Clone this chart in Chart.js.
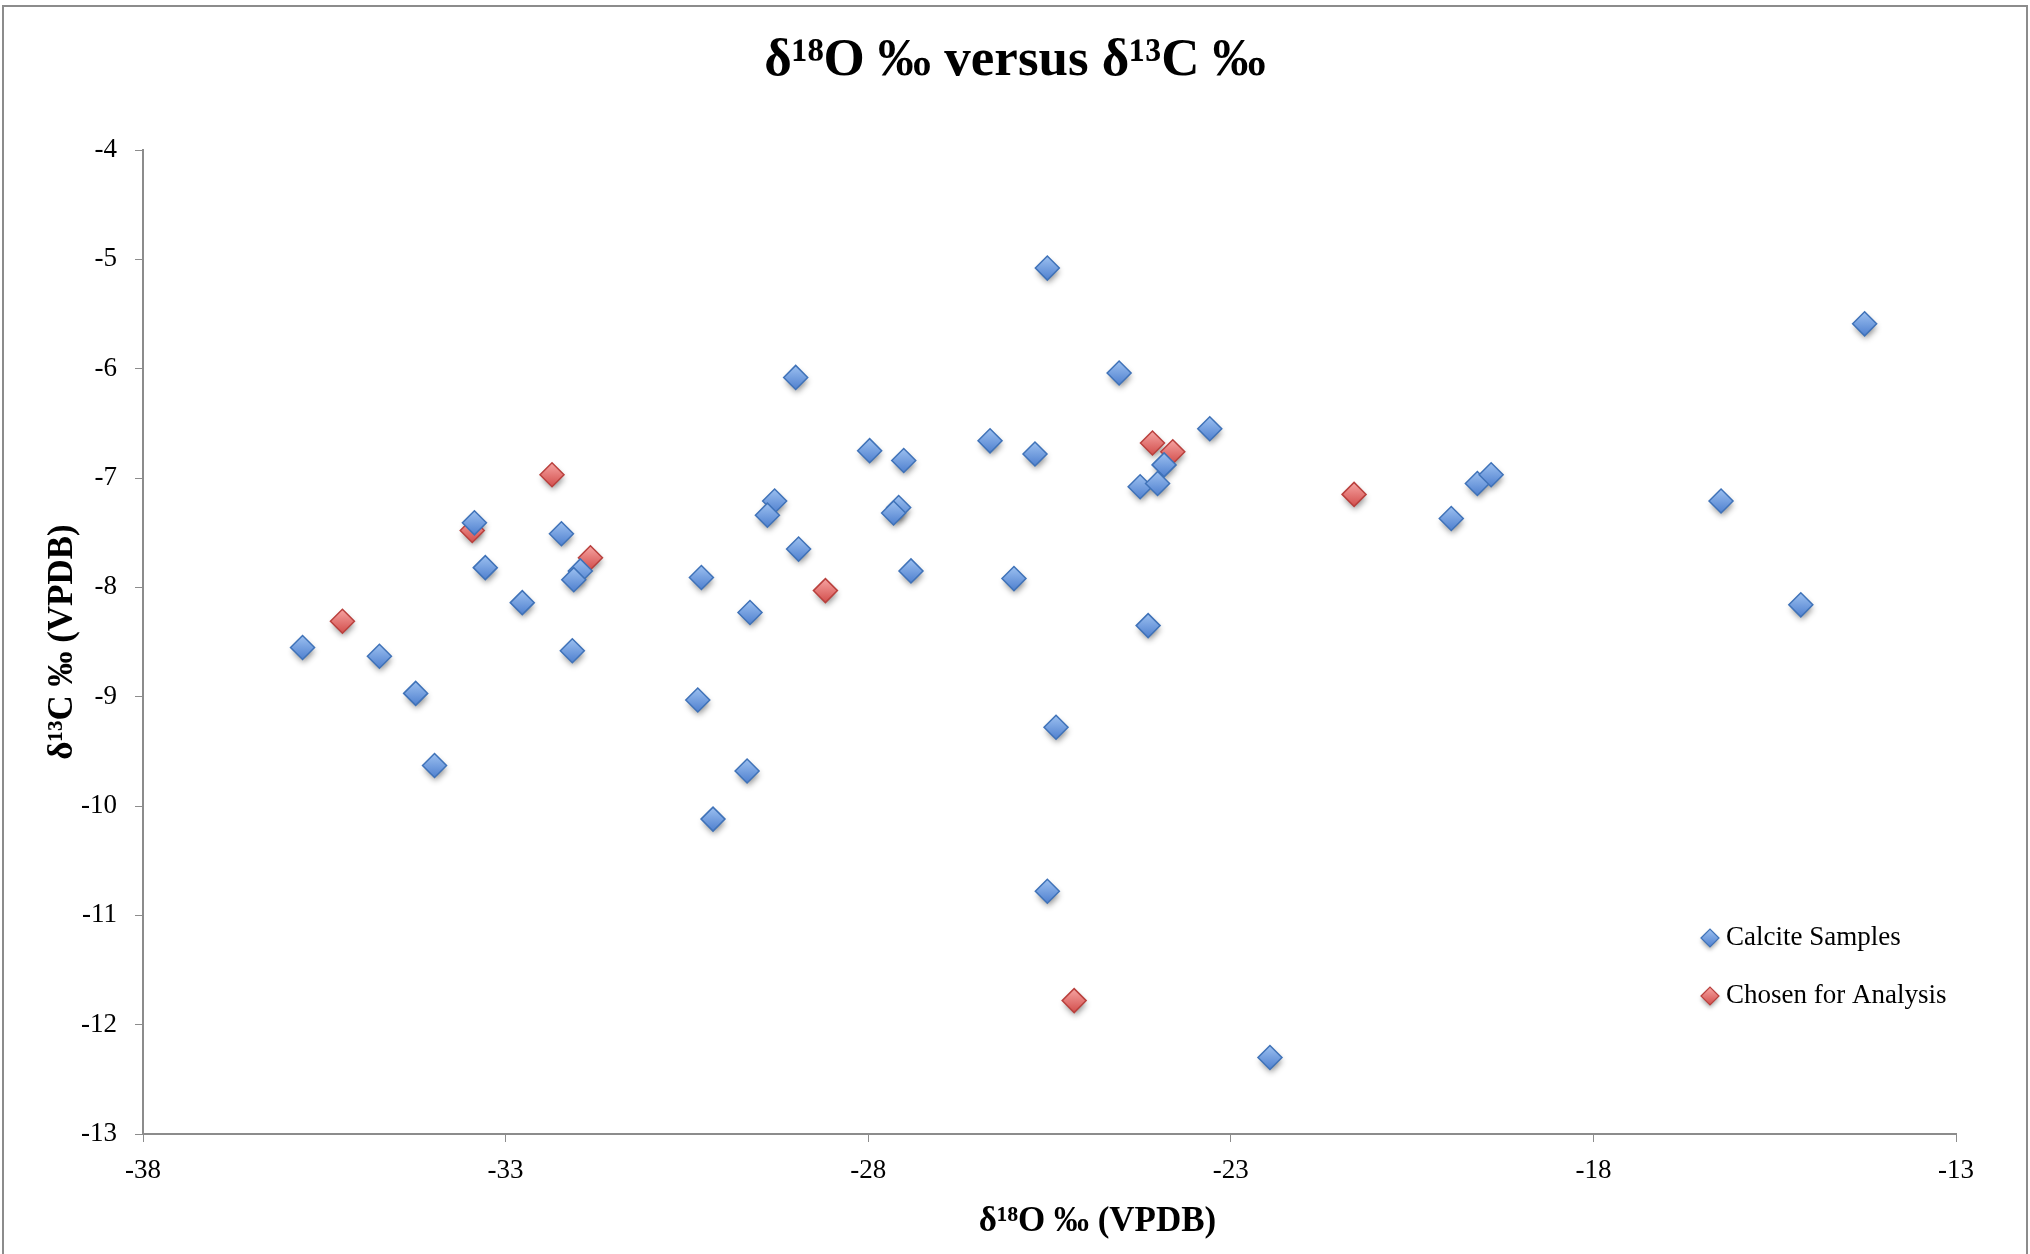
<!DOCTYPE html>
<html><head><meta charset="utf-8">
<script src="https://cdn.jsdelivr.net/npm/chart.js@4.4.1/dist/chart.umd.min.js"></script>
<style>html,body{margin:0;padding:0;background:#fff}#wrap{position:relative;width:2030px;height:1254px}</style>
</head><body><div id="wrap"><canvas id="c"></canvas></div>
<script>
// ---- data ----
const seriesNames = ['Calcite Samples', 'Chosen for Analysis'];
const calciteX = [-35.80,-34.74,-34.24,-33.98,-33.43,-33.28,-32.77,-32.23,-31.97,-32.06,-32.08,-30.30,-30.35,-30.14,-29.67,-29.63,-29.29,-29.39,-29.00,-28.96,-27.98,-27.58,-27.65,-27.51,-27.41,-26.32,-25.99,-25.70,-25.53,-25.41,-25.53,-24.54,-24.25,-24.14,-24.01,-23.92,-23.29,-22.46,-19.96,-19.60,-19.41,-16.24,-15.14,-14.26];
const calciteY = [-8.55,-8.63,-8.97,-9.63,-7.41,-7.82,-8.14,-7.51,-7.85,-7.93,-8.58,-7.91,-9.03,-10.12,-9.68,-8.23,-7.21,-7.34,-6.08,-7.65,-6.75,-7.27,-7.32,-6.84,-7.85,-6.66,-7.92,-6.78,-5.08,-9.28,-10.78,-6.04,-7.08,-8.35,-7.05,-6.88,-6.55,-12.30,-7.37,-7.05,-6.97,-7.21,-8.16,-5.59];
const chosenX = [-35.25,-33.46,-32.36,-31.83,-28.59,-24.08,-23.80,-21.30,-25.16];
const chosenY = [-8.31,-7.48,-6.97,-7.73,-8.03,-6.68,-6.76,-7.15,-11.78];
const xTicks = [-38,-33,-28,-23,-18,-13];
const yTicks = [-13,-12,-11,-10,-9,-8,-7,-6,-5,-4];
const titleText = 'δ¹⁸O ‰ versus δ¹³C ‰';
const xTitle = 'δ¹⁸O ‰ (VPDB)';
const yTitle = 'δ¹³C ‰ (VPDB)';

// ---- styles ----
const SERIF = "'Liberation Serif', 'DejaVu Serif', serif";
const R = 12;
const styles = [
  {top:'#9cc0f0', bottom:'#4f80cf', border:'#3f72b8'},
  {top:'#f6a4a2', bottom:'#d24e4c', border:'#b9403d'}
];
function gradFill(st){
  return (c) => {
    if (c.type !== 'data' || !c.chart.scales || !c.chart.scales.y || !c.parsed) return st.bottom;
    const py = c.chart.scales.y.getPixelForValue(c.parsed.y);
    if (!isFinite(py)) return st.bottom;
    const g = c.chart.ctx.createLinearGradient(0, py - R, 0, py + R);
    g.addColorStop(0, st.top); g.addColorStop(1, st.bottom);
    return g;
  };
}
function diamond(ctx, x, y, r){
  ctx.beginPath();
  ctx.moveTo(x - r, y); ctx.lineTo(x, y - r); ctx.lineTo(x + r, y); ctx.lineTo(x, y + r);
  ctx.closePath();
}

const framePlugin = {
  id: 'frame',
  beforeDraw(chart){
    const ctx = chart.ctx;
    ctx.save();
    ctx.fillStyle = '#fff'; ctx.fillRect(0,0,chart.width,chart.height);
    ctx.strokeStyle = '#8c8c8c'; ctx.lineWidth = 2;
    ctx.strokeRect(3, 6, chart.width - 6, chart.height + 10);
    ctx.restore();
  }
};
const shadowPlugin = {
  id: 'shadows',
  beforeDatasetsDraw(chart){
    const ctx = chart.ctx;
    ctx.save();
    ctx.shadowColor = 'rgba(0,0,0,0.45)'; ctx.shadowBlur = 6; ctx.shadowOffsetX = 1; ctx.shadowOffsetY = 4;
    ctx.fillStyle = '#fff';
    chart.data.datasets.forEach((ds, i) => {
      chart.getDatasetMeta(i).data.forEach(pt => {
        if (isFinite(pt.x) && isFinite(pt.y)) { diamond(ctx, pt.x, pt.y, R - 1); ctx.fill(); }
      });
    });
    ctx.restore();
  }
};
// x-axis title (placed as in the reference, slightly right of the axis centre)
const xTitlePlugin = {
  id: 'xTitle',
  afterDraw(chart){
    const ctx = chart.ctx, a = chart.chartArea;
    ctx.save();
    ctx.fillStyle = '#000'; ctx.font = 'bold 35px ' + SERIF;
    ctx.textAlign = 'center'; ctx.textBaseline = 'middle';
    ctx.fillText(xTitle, (a.left + a.right) / 2 + 48, a.bottom + 88);
    ctx.restore();
  }
};
const legendPlugin = {
  id: 'customLegend',
  afterDraw(chart){
    const ctx = chart.ctx;
    const x0 = 1710, ys = [938, 996], r = 9;
    ctx.save();
    seriesNames.forEach((name, i) => {
      const st = styles[i], y = ys[i];
      ctx.save();
      ctx.shadowColor = 'rgba(0,0,0,0.35)'; ctx.shadowBlur = 4; ctx.shadowOffsetY = 3;
      const g = ctx.createLinearGradient(0, y - r, 0, y + r);
      g.addColorStop(0, st.top); g.addColorStop(1, st.bottom);
      diamond(ctx, x0, y, r); ctx.fillStyle = g; ctx.fill();
      ctx.restore();
      diamond(ctx, x0, y, r); ctx.strokeStyle = st.border; ctx.lineWidth = 1.2; ctx.stroke();
      ctx.fillStyle = '#000'; ctx.font = '27px ' + SERIF; ctx.textBaseline = 'middle'; ctx.textAlign = 'left';
      ctx.fillText(name, x0 + 16, y);
    });
    ctx.restore();
  }
};

const toPts = (xs, ys) => xs.map((x, i) => ({x, y: ys[i]}));

new Chart(document.getElementById('c'), {
  type: 'scatter',
  data: {
    datasets: [
      {label: seriesNames[0], data: toPts(calciteX, calciteY), pointStyle: 'rectRot', pointRadius: R,
       backgroundColor: gradFill(styles[0]), borderColor: styles[0].border, borderWidth: 1.5},
      {label: seriesNames[1], data: toPts(chosenX, chosenY), pointStyle: 'rectRot', pointRadius: R,
       backgroundColor: gradFill(styles[1]), borderColor: styles[1].border, borderWidth: 1.5}
    ]
  },
  options: {
    responsive: true, maintainAspectRatio: false, animation: false, events: [],
    layout: {padding: {left: 0, right: 0, top: 0, bottom: 0}},
    plugins: {
      legend: {display: false}, tooltip: {enabled: false},
      title: {display: true, text: titleText, color: '#000',
        font: {family: SERIF, size: 53, weight: 'bold'}, padding: {top: 30, bottom: 56.4}}
    },
    scales: {
      x: {
        type: 'linear', position: 'bottom', min: xTicks[0], max: xTicks[xTicks.length-1],
        afterBuildTicks: s => { s.ticks = xTicks.map(v => ({value: v})); },
        afterFit: s => { s.height = 120; },
        ticks: {color: '#000', font: {family: SERIF, size: 27}, padding: 13},
        grid: {drawOnChartArea: false, drawTicks: true, tickLength: 8, color: '#8c8c8c', lineWidth: 1},
        border: {display: true, color: '#8c8c8c', width: 2},
        title: {display: false, text: xTitle}
      },
      y: {
        type: 'linear', position: 'left', min: yTicks[0], max: yTicks[yTicks.length-1],
        afterBuildTicks: s => { s.ticks = yTicks.map(v => ({value: v})); },
        afterFit: s => { s.width = 143; },
        ticks: {color: '#000', font: {family: SERIF, size: 27}, padding: 18},
        grid: {drawOnChartArea: false, drawTicks: true, tickLength: 8, color: '#8c8c8c', lineWidth: 1},
        border: {display: true, color: '#8c8c8c', width: 2},
        title: {display: true, text: yTitle, color: '#000', font: {family: SERIF, size: 35, weight: 'bold'}, padding: {top: 42, bottom: 0}}
      },
      // empty right-hand margin (keeps the title centred on the whole canvas)
      yRight: {
        type: 'linear', position: 'right', display: true,
        grid: {display: false}, border: {display: false}, ticks: {display: false},
        afterFit: s => { s.width = 74; }
      }
    }
  },
  plugins: [framePlugin, shadowPlugin, xTitlePlugin, legendPlugin]
});
</script></body></html>
